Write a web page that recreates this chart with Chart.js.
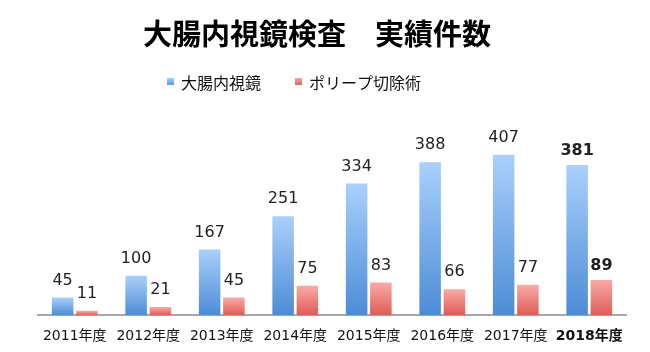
<!DOCTYPE html>
<html>
<head>
<meta charset="utf-8">
<script src="https://cdn.jsdelivr.net/npm/chart.js@4"></script>
<style>
  body { margin: 0; background: #fff; }
  #wrap { width: 650px; height: 352px; }
</style>
</head>
<body>
<div id="wrap"><canvas id="barChart"></canvas></div>
<script>
const chartTitle = "大腸内視鏡検査　実績件数";
const years = ["2011年度", "2012年度", "2013年度", "2014年度", "2015年度", "2016年度", "2017年度", "2018年度"];
const colonoscopy = [45, 100, 167, 251, 334, 388, 407, 381];
const polypectomy = [11, 21, 45, 75, 83, 66, 77, 89];

const numFont = "'DejaVu Sans', 'Noto Sans CJK JP', sans-serif";
const jpFont = "'Noto Sans CJK JP', sans-serif";

// vertical gradient per bar, light on top, darker at the bottom
function barGradient(light, dark) {
  return (context) => {
    const chart = context.chart;
    const y = chart.scales.y;
    if (!chart.chartArea || !y || context.parsed == null) return dark;
    const top = y.getPixelForValue(context.parsed.y);
    const bottom = y.getPixelForValue(0);
    if (!isFinite(top) || top === bottom) return dark;
    const g = chart.ctx.createLinearGradient(0, top, 0, bottom);
    g.addColorStop(0, light);
    g.addColorStop(1, dark);
    return g;
  };
}

// title and legend drawn by hand, the original sits left of centre
const header = {
  id: "header",
  afterDraw(chart) {
    const ctx = chart.ctx;
    ctx.save();
    ctx.fillStyle = "#000";
    ctx.textAlign = "center";
    ctx.textBaseline = "middle";
    ctx.font = "bold 29px " + jpFont;
    ctx.fillText(chartTitle, 317, 34);

    const items = [
      { x: 167, color: ["#a9cffa", "#5a97dc"] },
      { x: 295, color: ["#f9a7a3", "#e0625c"] }
    ];
    ctx.textAlign = "left";
    ctx.font = "16px " + jpFont;
    items.forEach((it, i) => {
      const g = ctx.createLinearGradient(0, 78, 0, 85);
      g.addColorStop(0, it.color[0]);
      g.addColorStop(1, it.color[1]);
      ctx.fillStyle = g;
      ctx.fillRect(it.x, 78, 7, 7);
      ctx.fillStyle = "#111";
      ctx.fillText(chart.data.datasets[i].label, it.x + 14, 82.5);
    });
    ctx.restore();
  }
};

// value labels above each bar, last year in bold
const valueLabels = {
  id: "valueLabels",
  afterDatasetsDraw(chart) {
    const ctx = chart.ctx;
    ctx.save();
    ctx.textAlign = "center";
    ctx.textBaseline = "middle";
    chart.data.datasets.forEach((ds, i) => {
      chart.getDatasetMeta(i).data.forEach((bar, j) => {
        const last = j === ds.data.length - 1;
        ctx.font = (last ? "bold " : "") + "16px " + numFont;
        ctx.fillStyle = "#222";
        ctx.fillText(ds.data[j], bar.x, bar.y - (last ? 14 : 17));
      });
    });
    ctx.restore();
  }
};

const ctx = document.getElementById("barChart").getContext("2d");
new Chart(ctx, {
  type: "bar",
  data: {
    labels: years,
    datasets: [
      {
        label: "大腸内視鏡",
        data: colonoscopy,
        backgroundColor: barGradient("#aad0fb", "#4c8cd6"),
        categoryPercentage: 0.66,
        barPercentage: 0.887
      },
      {
        label: "ポリープ切除術",
        data: polypectomy,
        backgroundColor: barGradient("#f9aaa6", "#de5c56"),
        categoryPercentage: 0.66,
        barPercentage: 0.887
      }
    ]
  },
  options: {
    responsive: true,
    maintainAspectRatio: false,
    animation: false,
    layout: { padding: { left: 38, right: 24, top: 100, bottom: 2 } },
    scales: {
      x: {
        grid: { display: false },
        border: { color: "#a8a8a8", width: 2 },
        ticks: {
          color: "#111",
          padding: 5,
          font: (c) => ({
            family: numFont,
            size: 14,
            weight: c.index === years.length - 1 ? "bold" : "normal"
          })
        }
      },
      y: {
        display: false,
        beginAtZero: true,
        max: 546
      }
    },
    plugins: {
      title: { display: false },
      legend: { display: false },
      tooltip: { enabled: false }
    }
  },
  plugins: [valueLabels, header]
});
</script>
</body>
</html>
